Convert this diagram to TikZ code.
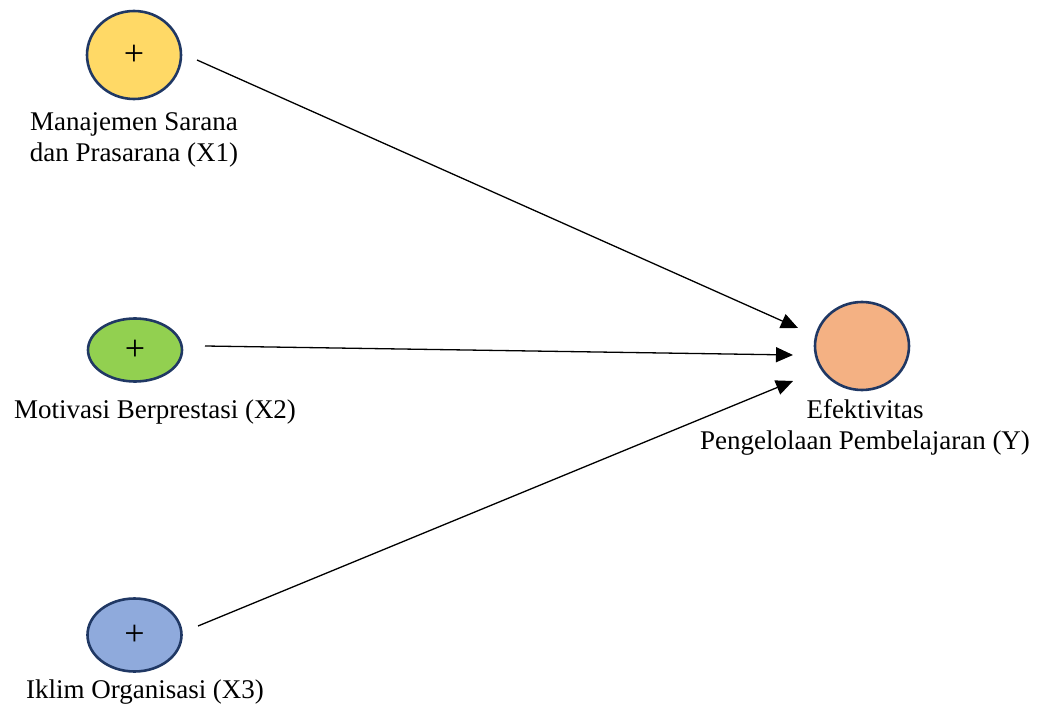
\documentclass[tikz,border=0pt]{standalone}
\usepackage{fontspec}
\setmainfont{Liberation Serif}
\usetikzlibrary{shapes.geometric,arrows.meta}
\definecolor{cyel}{HTML}{FFD966}
\definecolor{cgrn}{HTML}{92D050}
\definecolor{cblu}{HTML}{8FAADC}
\definecolor{corg}{HTML}{F4B183}
\definecolor{cbrd}{HTML}{203864}
\begin{document}
\begin{tikzpicture}[x=1pt,y=-1pt,
  var/.style={ellipse, draw=cbrd, line width=2.6pt, inner sep=0pt, minimum width=94pt,
    font=\fontsize{36}{40}\selectfont},
  lbl/.style={anchor=base, align=center, font=\fontsize{27}{31}\selectfont},
  conn/.style={line width=1.3pt, -{Triangle[length=17pt,width=15pt]}}]
\useasboundingbox (0,0) rectangle (1037,714);
\node[var, fill=cyel, minimum height=88pt] (x1) at (134,55) {+};
\node[var, fill=cgrn, minimum height=63pt] (x2) at (135,350) {+};
\node[var, fill=cblu, minimum height=73pt] (x3) at (134.5,635) {+};
\node[var, fill=corg, minimum height=88pt] (y) at (862,346) {};
\node[lbl] (l1) at (134,162) {Manajemen Sarana\\dan Prasarana (X1)};
\node[lbl] (l2) at (155,418) {Motivasi Berprestasi (X2)};
\node[lbl] (l3) at (145,698) {Iklim Organisasi (X3)};
\node[lbl] (ly) at (865,449) {Efektivitas\\Pengelolaan Pembelajaran (Y)};
\coordinate (s1) at (197,60);
\coordinate (t1) at (798,328);
\coordinate (s2) at (205,346);
\coordinate (t2) at (793,355);
\coordinate (s3) at (198,626);
\coordinate (t3) at (793,381);
\draw[conn] (s1) -- (t1);
\draw[conn] (s2) -- (t2);
\draw[conn] (s3) -- (t3);
\end{tikzpicture}
\end{document}
